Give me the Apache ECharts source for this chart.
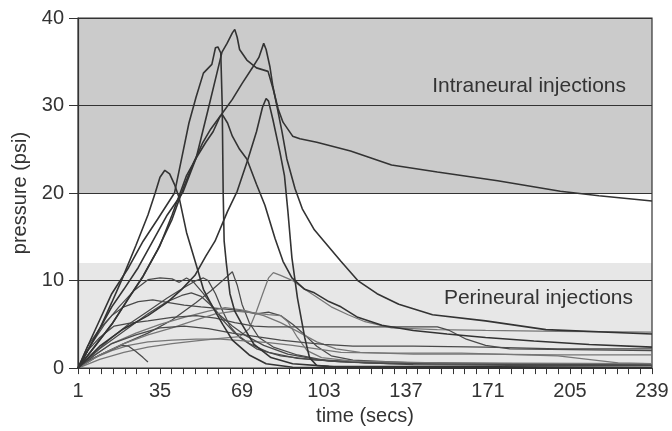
<!DOCTYPE html>
<html lang="en" style="height: 100%">
<head>
  <meta charset="utf-8">
</head>
<body style="height: 100%; margin: 0">
  <div id="container" style="width: 672px; height: 431px"></div>

  <script type="text/javascript" src="https://cdn.jsdelivr.net/npm/echarts@6/dist/echarts.min.js"></script>

  <script type="text/javascript">
    var dom = document.getElementById('container');
    var myChart = echarts.init(dom, null, { renderer: 'canvas' });
    var option;

// x tick labels: 1, 35, 69 ... 239 (secs)
const timeTicks = [1, 35, 69, 103, 137, 171, 205, 239];
const pressureTicks = [0, 10, 20, 30, 40];

// shaded bands (psi)
const intraBand = [20, 40];
const periBand = [0, 12];

// intraneural injections: [time, pressure]
const intraA = [[1,0],[5,2],[10,4.5],[15,7.5],[19,10],[25,14],[30,17.5],[33,20],[35,21.8],[37,22.6],[39,22.2],[41,21],[43,19.4],[46,15.5],[50,11.8],[53,9],[57,6.9],[61,5],[65,3.2],[72,1.5],[79,0.5],[90,0.1],[110,0]];
const intraB = [[1,0],[5,2.5],[10,5.5],[15,8.5],[22,11.5],[28,14.5],[34,17],[41,20],[44,24],[47,28],[50,31],[53,33.7],[56.5,34.7],[58,36.6],[59,36.7],[60.2,36],[60.8,30],[61.2,20],[61.6,14.5],[62.5,12],[64,8.5],[66,6.5],[69,5],[74,2.7],[81,1.2],[90,0.5],[105,0.2],[239,0.1]];
const intraC = [[1,0],[5,2],[10,4.5],[15,7],[20,9],[26,11.5],[32,14.5],[38,17.5],[44.5,20.1],[50,24],[55,29.6],[58.6,33.7],[60.7,36.1],[62.8,37.1],[65,38.3],[66,38.7],[67,37.8],[68,36.4],[71,35.2],[75,34.3],[79.8,33.9],[82,31.8],[84,29.6],[86,28.1],[90,26.5],[93,26.2],[100,25.8],[114,24.8],[131,23.2],[150,22.4],[175,21.4],[201,20.2],[217,19.7],[239,19.1]];
const intraD = [[1,0],[8,2.5],[15,5],[22,8],[28,10.5],[34,13.5],[40,17],[45,20.8],[49,23.5],[52.8,25.8],[56,27.3],[60,28.8],[65,30.7],[69,32.5],[73.5,34.4],[76,35.5],[78,37.1],[79,36.4],[80.6,34.4],[81.8,32.2],[83.5,29.9],[85.6,27],[87.6,23.9],[91,20.5],[94,18.2],[99,15.8],[103,14.5],[110,12.2],[117,10],[125,8.5],[134,7.3],[148,6.1],[170,5.4],[195,4.4],[239,3.9]];
const intraE = [[1,0],[10,2.5],[20,4.5],[30,6],[38,7.5],[44,9],[49.5,10.6],[54,12.8],[57.8,14.5],[63,17.9],[67,20.2],[71.5,23.9],[75,27],[77.5,29.8],[79,30.8],[80,30.5],[81.8,28.4],[84.7,24.7],[86.6,22],[88,18],[89.7,12.6],[92,8],[95,3.5],[97,1.2],[100,0.3],[110,0.1],[239,0]];
const intraF = [[1,0],[8,2.5],[15,5],[22,8],[28,10.5],[35,14],[40,17.5],[44,20.5],[46,22],[50,24],[54,25.8],[57,27],[60,28.8],[61,28.9],[63,28],[65,26.5],[68,25],[71,23.9],[75,21],[78.5,18.6],[82.7,14.8],[86,12.2],[89.7,10.3],[95,9],[99,8.6],[105,7.6],[110,7],[117,5.8],[127,4.9],[140,4.3],[154,3.9],[170,3.5],[190,3.1],[213,2.7],[239,2.4]];

// perineural injections: [time, pressure]
const periG = [[1,0],[6,2.5],[12,5],[18,7],[24,8.8],[30,10.1],[35,10.3],[40,10.2],[43,9.8],[46,10.3],[49,9.8],[53,8.5],[57,7],[61,5.5],[66,4],[72,2.8],[80,1.8],[92,1.1],[110,0.7],[140,0.4],[180,0.3],[239,0.3]];
const periH = [[1,0],[8,1.8],[15,3.5],[22,5],[30,6.5],[38,8],[45,9.2],[50,10],[53,10.3],[55,10],[58,8.5],[61,6.5],[64,4.8],[68,3.5],[75,2.2],[85,1.4],[100,0.9],[130,0.6],[239,0.4]];
const periI = [[1,0],[10,1.5],[20,2.8],[30,4],[40,5.5],[50,7.5],[56,8.8],[61,10],[65,11],[67,9.5],[69,7.3],[72,5.2],[76,3.5],[82,2.4],[92,1.5],[105,0.8],[130,0.5],[239,0.3]];
const periJ = [[1,0],[10,1],[20,1.8],[30,2.4],[40,2.8],[50,3.1],[60,3.4],[68,3.6],[72,4.5],[75,6.5],[78,8.8],[80,10.3],[82,10.9],[85,10.6],[90,10],[95,9],[99,8.3],[106,7],[113,6.1],[120,5.3],[131,4.6],[150,4.4],[170,4.3],[200,4.2],[239,4.1]];
const periK = [[1,0],[5,2.5],[10,4.5],[15,6],[20,7],[26,7.6],[32,7.8],[38,7.5],[45,7.2],[52,7],[60,6.8],[68,6.6],[75,6.2],[80,6.4],[85,6],[90,5],[95,3.8],[100,2.5],[106,1.4],[115,0.9],[140,0.6],[239,0.4]];
const periL = [[1,0],[8,1.5],[15,2.8],[25,4],[35,5],[45,5.8],[55,6.5],[62,6.9],[70,6.6],[78,6],[85,5.2],[92,4.2],[100,3],[108,2.2],[118,1.8],[140,1.6],[170,1.6],[200,1.5],[239,1.5]];
const periM = [[1,0],[5,2],[10,3.5],[16,4.8],[22,5.1],[30,5.4],[40,5.8],[50,6],[58,5.7],[66,5.2],[74,4.8],[80,4.7],[100,4.7],[130,4.7],[150,4.7],[155,4.3],[162,3.3],[170,2.6],[180,2.2],[239,2.0]];
const periN = [[1,0],[8,1.2],[15,2],[22,2.6],[30,3],[40,3.2],[50,3.3],[60,3.3],[70,3.1],[80,2.9],[90,2.6],[100,2.2],[110,1.8],[130,1.7],[160,1.7],[200,1.4],[225,0.6],[239,0.5]];
const periO = [[1,0],[5,0.8],[10,1.5],[15,2.1],[19,2.6],[22,2.5],[25,1.9],[28,1.2],[30,0.7]];
const periP = [[1,0],[10,2.2],[20,4.2],[30,6.2],[38,7.6],[44,8.3],[48,8.6],[52,8.2],[56,7.2],[60,6],[65,4.8],[70,3.8],[78,2.6],[88,1.6],[100,1],[120,0.6],[239,0.3]];
const periQ = [[1,0],[10,1.5],[20,2.8],[30,3.8],[40,4.6],[50,5.5],[58,6.2],[66,6.5],[74,6.3],[80,6.1],[85,6],[88,5.3],[92,3.5],[96,2],[102,1.2],[115,0.8],[150,0.6],[239,0.5]];
const periR = [[1,0],[8,1.5],[15,2.8],[25,3.8],[35,4.6],[45,4.8],[55,4.5],[65,4],[75,3.6],[85,3.2],[95,2.9],[103,2.7],[115,2.5],[140,2.5],[170,2.4],[200,2.2],[239,2.2]];

const intraneural = [intraA, intraB, intraC, intraD, intraE, intraF];
const perineural = [periG, periH, periI, periJ, periK, periL, periM, periN, periO, periP, periQ, periR];
const lightOnes = [periJ, periL, periN, periQ];

const FONT = 'Liberation Sans, Arial, Helvetica, sans-serif';

const lineSeries = (data, color, width) => ({
  type: 'line',
  data,
  showSymbol: false,
  symbol: 'none',
  z: 4,
  lineStyle: { color, width },
  emphasis: { disabled: true }
});

const series = [
  {
    // holds the two grey bands
    type: 'line',
    data: [],
    markArea: {
      silent: true,
      z: 1,
      data: [
        [{ yAxis: intraBand[0], itemStyle: { color: '#cbcbcb' } }, { yAxis: intraBand[1] }],
        [{ yAxis: periBand[0], itemStyle: { color: '#e7e7e7' } }, { yAxis: periBand[1] }]
      ]
    }
  }
];
perineural.forEach((d) => {
  series.push(lineSeries(d, lightOnes.includes(d) ? '#777' : '#4a4a4a', 1.25));
});
intraneural.forEach((d) => {
  series.push(lineSeries(d, '#333', 1.6));
});

option = {
  animation: false,
  backgroundColor: '#fff',
  grid: {
    left: 78,
    right: 20,
    top: 18,
    bottom: 60,
    show: true,
    z: 3,
    borderColor: '#333',
    borderWidth: 1.2
  },
  xAxis: {
    type: 'value',
    min: timeTicks[0],
    max: timeTicks[timeTicks.length - 1],
    interval: timeTicks[1] - timeTicks[0],
    z: 3,
    name: 'time (secs)',
    nameLocation: 'middle',
    nameGap: 37,
    nameTextStyle: { fontFamily: FONT, fontSize: 20, color: '#333' },
    axisLine: { lineStyle: { color: '#333', width: 1.2 } },
    axisTick: { show: true, length: 6, lineStyle: { color: '#333' } },
    minorTick: { show: true, splitNumber: 7, length: 6, lineStyle: { color: '#333' } },
    axisLabel: { fontFamily: FONT, fontSize: 20, color: '#333', margin: 13 },
    splitLine: { show: false }
  },
  yAxis: {
    type: 'value',
    min: pressureTicks[0],
    max: pressureTicks[pressureTicks.length - 1],
    interval: pressureTicks[1] - pressureTicks[0],
    z: 3,
    name: 'pressure (psi)',
    nameLocation: 'middle',
    nameGap: 46,
    nameTextStyle: { fontFamily: FONT, fontSize: 20, color: '#333' },
    axisLine: { show: true, lineStyle: { color: '#333', width: 1.2 } },
    axisTick: { show: true, length: 9, lineStyle: { color: '#333' } },
    axisLabel: { fontFamily: FONT, fontSize: 20, color: '#333', margin: 14 },
    splitLine: { show: true, lineStyle: { color: '#333', width: 1.2 } }
  },
  graphic: [
    {
      type: 'text',
      right: 46,
      top: 76,
      z: 10,
      style: { text: 'Intraneural injections', font: '21px ' + FONT, fill: '#333' }
    },
    {
      type: 'text',
      right: 39,
      top: 288,
      z: 10,
      style: { text: 'Perineural injections', font: '21px ' + FONT, fill: '#333' }
    }
  ],
  series
};

    if (option && typeof option === 'object') {
      myChart.setOption(option);
    }

    window.addEventListener('resize', myChart.resize);
  </script>
</body>
</html>
